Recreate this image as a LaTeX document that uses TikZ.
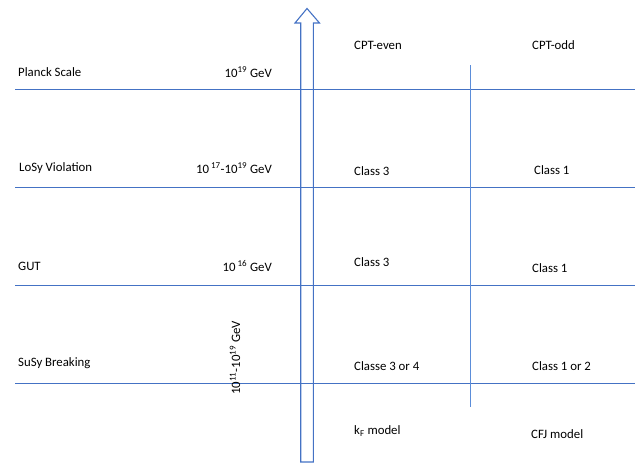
\documentclass[tikz,border=0pt]{standalone}
\usepackage{fontspec}
\setmainfont{Carlito}
\definecolor{rulecol}{RGB}{68,114,196}
\definecolor{divcol}{RGB}{91,141,217}
\begin{document}
\begin{tikzpicture}[x=1pt,y=-1pt,
  rule/.style={draw=rulecol, line width=1.1pt},
  divider/.style={draw=divcol, line width=1.1pt},
  txt/.style={font=\fontsize{12.8}{15}\selectfont, inner sep=0pt},
  lbl/.style={txt, anchor=west},
  val/.style={txt, anchor=east}]
\useasboundingbox (0,0) rectangle (635,463);

% energy level separators
\coordinate (l1a) at (15,89.5);  \coordinate (l1b) at (635,89.5);
\coordinate (l2a) at (15,187.5); \coordinate (l2b) at (635,187.5);
\coordinate (l3a) at (15,285.5); \coordinate (l3b) at (635,285.5);
\coordinate (l4a) at (15,383.5); \coordinate (l4b) at (635,383.5);
\draw[rule] (l1a) -- (l1b);
\draw[rule] (l2a) -- (l2b);
\draw[rule] (l3a) -- (l3b);
\draw[rule] (l4a) -- (l4b);

% column divider between CPT-even and CPT-odd
\coordinate (dtop) at (470.5,65);
\coordinate (dbot) at (470.5,407);
\draw[divider] (dtop) -- (dbot);

% energy axis as a block arrow
\draw[rule, line join=miter]
  (300.7,462) -- (300.7,23) -- (295,23) -- (307,8.5) -- (319.5,23)
  -- (313.3,23) -- (313.3,462) -- cycle;

% scale names
\node[lbl] (planck) at (18,72)  {Planck Scale};
\node[lbl] (losy)   at (19,168) {LoSy Violation};
\node[lbl] (gut)    at (18,266) {GUT};
\node[lbl] (susy)   at (18,363) {SuSy Breaking};

% energies
\node[val] (e1) at (272,72)  {10\textsuperscript{19} GeV};
\node[val] (e2) at (272,168) {10\,\textsuperscript{17}-10\textsuperscript{19} GeV};
\node[val] (e3) at (272,266) {10\,\textsuperscript{16} GeV};
\node[txt, rotate=90] (e4) at (235,358)
  {10\textsuperscript{11}-10\textsuperscript{19} GeV};

% column headers and classes
\node[lbl] (even) at (354,45)  {CPT-even};
\node[lbl] (odd)  at (532,45)  {CPT-odd};
\node[lbl] (c1)   at (354,171) {Class 3};
\node[lbl] (c2)   at (534,170) {Class 1};
\node[lbl] (c3)   at (354,262) {Class 3};
\node[lbl] (c4)   at (532,268) {Class 1};
\node[lbl] (c5)   at (354,366) {Classe 3 or 4};
\node[lbl] (c6)   at (532,366) {Class 1 or 2};
\node[lbl] (kf)   at (354,431) {k\textsubscript{F} model};
\node[lbl] (cfj)  at (531,434) {CFJ model};
\end{tikzpicture}
\end{document}
